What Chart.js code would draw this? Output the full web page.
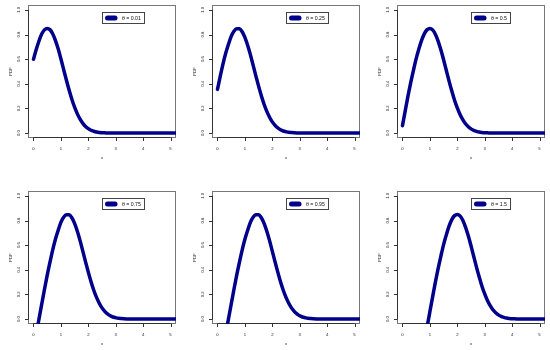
<!DOCTYPE html>
<html>
<head>
<meta charset="utf-8">
<script src="https://cdn.jsdelivr.net/npm/chart.js@4"></script>
<style>
	body { margin: 0; background: #fff; width: 550px; height: 350px; overflow: hidden; position: relative; }
	.panel { position: absolute; width: 184px; height: 175px; }
</style>
</head>
<body>
<div class="panel" style="left:0px;top:0px"><canvas id="c0" width="184" height="175"></canvas></div>
<div class="panel" style="left:184px;top:0px"><canvas id="c1" width="184" height="175"></canvas></div>
<div class="panel" style="left:369px;top:0px"><canvas id="c2" width="184" height="175"></canvas></div>
<div class="panel" style="left:0px;top:186px"><canvas id="c3" width="184" height="175"></canvas></div>
<div class="panel" style="left:184px;top:186px"><canvas id="c4" width="184" height="175"></canvas></div>
<div class="panel" style="left:369px;top:186px"><canvas id="c5" width="184" height="175"></canvas></div>
<script>
// DATA
const xValues = [0, 0.1, 0.2, 0.3, 0.4, 0.5, 0.6, 0.7, 0.8, 0.9,
	1, 1.1, 1.2, 1.3, 1.4, 1.5, 1.6, 1.7, 1.8, 1.9,
	2, 2.1, 2.2, 2.3, 2.4, 2.5, 2.6, 2.7, 2.8, 2.9,
	3, 3.1, 3.2, 3.3, 3.4, 3.5, 3.6, 3.7, 3.8, 3.9,
	4, 4.1, 4.2, 4.3, 4.4, 4.5, 4.6, 4.7, 4.8, 4.9,
	5, 5.1, 5.2];

const thetaLabels = ['θ = 0.01', 'θ = 0.25', 'θ = 0.5', 'θ = 0.75', 'θ = 0.95', 'θ = 1.5'];

const pdfTheta001 = [0.60, 0.678, 0.748, 0.804, 0.838, 0.850, 0.840, 0.807, 0.753, 0.684,
	0.603, 0.517, 0.431, 0.349, 0.274, 0.210, 0.156, 0.113, 0.079, 0.054,
	0.036, 0.023, 0.015, 0.009, 0.005, 0.003, 0.002, 0.001, 0, 0,
	0, 0, 0, 0, 0, 0, 0, 0, 0, 0,
	0, 0, 0, 0, 0, 0, 0, 0, 0, 0,
	0, 0, 0];

const pdfTheta025 = [0.355, 0.46, 0.56, 0.648, 0.72, 0.785, 0.827, 0.848, 0.847, 0.823,
	0.777, 0.713, 0.637, 0.552, 0.465, 0.381, 0.303, 0.234, 0.176, 0.129,
	0.091, 0.063, 0.042, 0.027, 0.017, 0.011, 0.006, 0.004, 0.0025, 0.0015,
	0.001, 0, 0, 0, 0, 0, 0, 0, 0, 0,
	0, 0, 0, 0, 0, 0, 0, 0, 0, 0,
	0, 0, 0];

const pdfTheta05 = [0.06, 0.18, 0.30, 0.41, 0.51, 0.605, 0.685, 0.755, 0.808, 0.840,
	0.850, 0.838, 0.803, 0.747, 0.676, 0.595, 0.508, 0.422, 0.341, 0.267,
	0.204, 0.151, 0.109, 0.076, 0.052, 0.034, 0.022, 0.014, 0.008, 0.005,
	0.003, 0.002, 0.001, 0, 0, 0, 0, 0, 0, 0,
	0, 0, 0, 0, 0, 0, 0, 0, 0, 0,
	0, 0, 0];

const pdfTheta075 = [-0.24, -0.12, 0, 0.12, 0.24, 0.355, 0.46, 0.56, 0.648, 0.72,
	0.785, 0.827, 0.848, 0.847, 0.823, 0.777, 0.713, 0.637, 0.552, 0.465,
	0.381, 0.303, 0.234, 0.176, 0.129, 0.091, 0.063, 0.042, 0.027, 0.017,
	0.011, 0.006, 0.004, 0.0025, 0.0015, 0.001, 0, 0, 0, 0,
	0, 0, 0, 0, 0, 0, 0, 0, 0, 0,
	0, 0, 0];

const pdfTheta095 = [-0.48, -0.36, -0.24, -0.12, 0, 0.12, 0.24, 0.355, 0.46, 0.56,
	0.648, 0.72, 0.785, 0.827, 0.848, 0.847, 0.823, 0.777, 0.713, 0.637,
	0.552, 0.465, 0.381, 0.303, 0.234, 0.176, 0.129, 0.091, 0.063, 0.042,
	0.027, 0.017, 0.011, 0.006, 0.004, 0.0025, 0.0015, 0.001, 0, 0,
	0, 0, 0, 0, 0, 0, 0, 0, 0, 0,
	0, 0, 0];

const pdfTheta15 = [-1.14, -1.02, -0.90, -0.78, -0.66, -0.54, -0.42, -0.30, -0.18, -0.06,
	0.06, 0.18, 0.30, 0.41, 0.51, 0.605, 0.685, 0.755, 0.808, 0.840,
	0.850, 0.838, 0.803, 0.747, 0.676, 0.595, 0.508, 0.422, 0.341, 0.267,
	0.204, 0.151, 0.109, 0.076, 0.052, 0.034, 0.022, 0.014, 0.008, 0.005,
	0.003, 0.002, 0.001, 0, 0, 0, 0, 0, 0, 0,
	0, 0, 0];

const xTicks = [0, 1, 2, 3, 4, 5];
const xTickLabels = ['0', '1', '2', '3', '4', '5'];
const yTicks = [0, 0.2, 0.4, 0.6, 0.8, 1];
const yTickLabels = ['0.0', '0.2', '0.4', '0.6', '0.8', '1.0'];
const xTitle = 'x';
const yTitle = 'PDF';

const lineColor = '#00008b';
const fontFamily = '"Liberation Sans", Arial, sans-serif';

// DRAW BOX, AXES AND LEGEND LIKE R BASE GRAPHICS
const rFramePlugin = {
	id: 'rFrame',
	beforeDatasetsDraw(chart) {
		let ctx = chart.ctx;
		let area = chart.chartArea;
		let xs = chart.scales.x;
		let ys = chart.scales.y;

		ctx.save();
		// plot box
		ctx.strokeStyle = '#777';
		ctx.lineWidth = 1;
		ctx.strokeRect(Math.round(area.left) + 0.5, Math.round(area.top) + 0.5,
			Math.round(area.right - area.left) - 1, Math.round(area.bottom - area.top) - 1);

		// x axis
		let axY = Math.round(area.bottom) - 0.5;
		ctx.strokeStyle = '#333';
		ctx.beginPath();
		ctx.moveTo(xs.getPixelForValue(xTicks[0]), axY);
		ctx.lineTo(xs.getPixelForValue(xTicks[xTicks.length - 1]), axY);
		for (let i = 0; i < xTicks.length; i++) {
			let px = Math.round(xs.getPixelForValue(xTicks[i])) + 0.5;
			ctx.moveTo(px, axY);
			ctx.lineTo(px, axY + 3.5);
		}
		// y axis
		let axX = Math.round(area.left) + 0.5;
		ctx.moveTo(axX, ys.getPixelForValue(yTicks[0]));
		ctx.lineTo(axX, ys.getPixelForValue(yTicks[yTicks.length - 1]));
		for (let i = 0; i < yTicks.length; i++) {
			let py = Math.round(ys.getPixelForValue(yTicks[i])) + 0.5;
			ctx.moveTo(axX, py);
			ctx.lineTo(axX - 3.5, py);
		}
		ctx.stroke();

		// tick labels
		ctx.fillStyle = '#222';
		ctx.font = '4.2px ' + fontFamily;
		ctx.textAlign = 'center';
		ctx.textBaseline = 'middle';
		for (let i = 0; i < xTicks.length; i++)
			ctx.fillText(xTickLabels[i], xs.getPixelForValue(xTicks[i]), area.bottom + 11);

		for (let i = 0; i < yTicks.length; i++) {
			ctx.save();
			ctx.translate(area.left - 9, ys.getPixelForValue(yTicks[i]));
			ctx.rotate(-Math.PI / 2);
			ctx.fillText(yTickLabels[i], 0, 0);
			ctx.restore();
		}

		// axis titles
		ctx.fillText(xTitle, (area.left + area.right) / 2, area.bottom + 20);
		ctx.save();
		ctx.translate(area.left - 17, (area.top + area.bottom) / 2);
		ctx.rotate(-Math.PI / 2);
		ctx.fillText(yTitle, 0, 0);
		ctx.restore();
		ctx.restore();
	},
	afterDatasetsDraw(chart) {
		let ctx = chart.ctx;
		let xs = chart.scales.x;
		let ys = chart.scales.y;
		let label = chart.data.datasets[0].label;

		ctx.save();
		ctx.font = '5.2px ' + fontFamily;
		let textW = ctx.measureText(label).width;
		let lx = Math.round(xs.getPixelForValue(2.5)) + 0.5;
		let ly = Math.round(ys.getPixelForValue(1.0)) + 2.5;
		let lw = Math.round(19.5 + textW + 3.5);
		let lh = 11;

		ctx.fillStyle = '#fff';
		ctx.fillRect(lx, ly, lw, lh);
		ctx.strokeStyle = '#444';
		ctx.lineWidth = 1;
		ctx.strokeRect(lx, ly, lw, lh);

		ctx.strokeStyle = lineColor;
		ctx.lineWidth = 5;
		ctx.lineCap = 'round';
		ctx.beginPath();
		ctx.moveTo(lx + 5, ly + lh / 2);
		ctx.lineTo(lx + 12.5, ly + lh / 2);
		ctx.stroke();

		ctx.fillStyle = '#111';
		ctx.textAlign = 'left';
		ctx.textBaseline = 'middle';
		ctx.fillText(label, lx + 19.5, ly + lh / 2 + 0.3);
		ctx.restore();
	}
};

const panels = [
	{ id: 'c0', label: thetaLabels[0], values: pdfTheta001 },
	{ id: 'c1', label: thetaLabels[1], values: pdfTheta025 },
	{ id: 'c2', label: thetaLabels[2], values: pdfTheta05 },
	{ id: 'c3', label: thetaLabels[3], values: pdfTheta075 },
	{ id: 'c4', label: thetaLabels[4], values: pdfTheta095 },
	{ id: 'c5', label: thetaLabels[5], values: pdfTheta15 }
];

// CREATE ONE CHART FOR EACH PANEL
function createPanel(panel) {
	const ctx = document.getElementById(panel.id);
	new Chart(ctx, {
		type: 'line',
		data: {
			datasets: [{
				label: panel.label,
				data: xValues.map((x, i) => ({ x: x, y: panel.values[i] })),
				borderColor: lineColor,
				borderWidth: 3.5,
				pointRadius: 0,
				fill: false,
				cubicInterpolationMode: 'monotone',
				borderCapStyle: 'round',
				borderJoinStyle: 'round',
				clip: 0
			}]
		},
		options: {
			responsive: false,
			animation: false,
			devicePixelRatio: 1,
			layout: {
				padding: { left: 28, right: 8, top: 5, bottom: 37 }
			},
			plugins: {
				legend: { display: false },
				tooltip: { enabled: false }
			},
			scales: {
				x: { type: 'linear', min: -0.2, max: 5.2, display: false },
				y: { type: 'linear', min: -0.04, max: 1.04, display: false }
			}
		},
		plugins: [rFramePlugin]
	});
}

for (let i = 0; i < panels.length; i++)
	createPanel(panels[i]);
</script>
</body>
</html>
